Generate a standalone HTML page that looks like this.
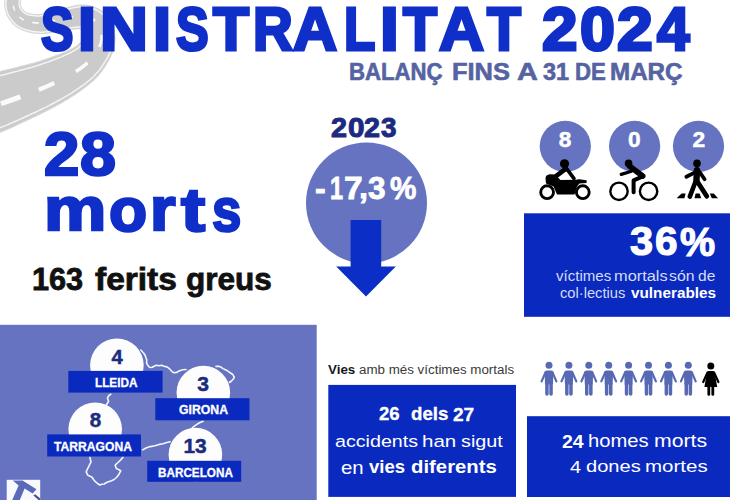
<!DOCTYPE html>
<html><head><meta charset="utf-8"><style>
html,body{margin:0;padding:0;}
body{width:730px;height:500px;position:relative;overflow:hidden;background:#fff;font-family:"Liberation Sans",sans-serif;}
.t{position:absolute;white-space:nowrap;line-height:1;transform-origin:0 0;font-family:"Liberation Sans",sans-serif;}
.a{position:absolute;}
svg{position:absolute;left:0;top:0;}
</style></head><body>
<svg width="730" height="500" viewBox="0 0 730 500">
<path d="M6.5,-8.6 L6.5,-7.9 L6.4,-7.2 L6.3,-6.5 L6.2,-5.8 L6.0,-5.1 L5.9,-4.3 L5.7,-3.4 L5.6,-2.6 L5.4,-1.7 L5.3,-0.8 L5.2,0.2 L5.0,1.1 L4.9,2.1 L4.9,3.2 L4.8,4.3 L4.8,5.4 L4.9,6.5 L5.0,7.7 L5.2,8.9 L5.5,10.1 L5.8,11.1 L6.1,12.1 L6.4,13.1 L6.8,14.0 L7.2,15.0 L7.6,15.9 L8.1,16.8 L8.6,17.8 L9.1,18.7 L9.7,19.6 L10.4,20.4 L11.0,21.3 L11.7,22.1 L12.4,23.0 L13.2,23.7 L14.0,24.5 L14.9,25.3 L15.8,26.0 L16.7,26.7 L17.7,27.3 L18.7,27.9 L19.7,28.5 L20.7,29.0 L21.7,29.5 L22.8,30.0 L23.9,30.4 L25.0,30.8 L26.1,31.2 L27.2,31.5 L28.3,31.8 L29.4,32.1 L30.6,32.3 L31.7,32.6 L32.9,32.8 L34.1,33.0 L35.3,33.1 L36.4,33.2 L37.6,33.4 L38.8,33.4 L40.1,33.5 L41.4,33.5 L42.8,33.5 L44.1,33.4 L45.4,33.3 L46.7,33.2 L48.0,33.0 L49.3,32.8 L50.6,32.6 L51.8,32.4 L53.0,32.2 L54.2,32.0 L55.4,31.7 L56.5,31.5 L57.7,31.3 L58.8,31.1 L59.8,30.9 L60.9,30.7 L61.8,30.6 L62.8,30.5 L63.8,30.3 L64.9,30.2 L66.2,30.1 L67.4,29.9 L68.6,29.8 L69.7,29.6 L70.9,29.4 L72.0,29.3 L73.1,29.1 L74.1,29.0 L75.1,28.9 L76.1,28.8 L77.0,28.7 L77.9,28.6 L78.7,28.6 L79.4,28.6 L80.1,28.6 L80.6,28.7 L81.1,28.7 L81.4,28.8 L81.7,28.9 L82.0,29.0 L82.3,29.2 L82.7,29.3 L83.0,29.5 L83.3,29.7 L83.5,29.8 L83.8,30.0 L84.0,30.2 L84.2,30.4 L84.4,30.5 L84.6,30.7 L84.7,30.9 L84.8,31.1 L85.0,31.3 L85.0,31.4 L85.1,31.6 L85.2,31.8 L85.3,31.9 L85.3,32.1 L85.3,32.2 L85.3,32.3 L85.3,32.5 L85.3,32.7 L85.3,32.9 L85.4,33.1 L85.4,33.4 L85.5,33.7 L85.5,34.0 L85.6,34.4 L85.6,34.7 L85.6,35.1 L85.6,35.4 L85.6,35.7 L85.5,36.0 L85.5,36.3 L85.4,36.5 L85.4,36.8 L85.3,36.9 L85.2,37.0 L85.1,37.1 L85.0,37.1 L84.9,37.3 L84.7,37.4 L84.6,37.6 L84.4,37.9 L84.2,38.2 L83.9,38.5 L83.7,38.9 L83.4,39.3 L83.0,39.7 L82.7,40.1 L82.3,40.6 L81.9,41.0 L81.5,41.5 L81.1,42.0 L80.7,42.5 L80.2,42.9 L79.7,43.4 L79.2,43.9 L78.7,44.4 L78.1,44.9 L77.5,45.4 L77.0,45.8 L76.4,46.2 L75.9,46.6 L75.3,46.9 L74.8,47.3 L74.2,47.6 L73.7,47.9 L73.1,48.2 L72.5,48.6 L71.9,48.9 L71.3,49.2 L70.6,49.6 L69.9,49.9 L69.1,50.3 L68.3,50.7 L67.4,51.1 L66.4,51.6 L65.4,52.0 L64.3,52.5 L63.1,53.0 L61.9,53.5 L60.6,54.0 L59.3,54.5 L57.9,55.0 L56.4,55.5 L55.0,56.1 L53.5,56.6 L51.9,57.2 L50.3,57.8 L48.7,58.3 L47.0,58.9 L45.4,59.5 L43.6,60.0 L41.9,60.6 L40.1,61.2 L38.3,61.8 L36.5,62.3 L34.7,62.9 L32.9,63.4 L30.9,63.9 L28.9,64.4 L26.7,65.0 L24.6,65.6 L22.3,66.1 L20.0,66.7 L17.7,67.3 L15.3,67.9 L13.0,68.5 L10.6,69.1 L8.2,69.6 L5.9,70.2 L3.5,70.7 L1.3,71.3 L-1.0,71.8 L-3.2,72.2 L-5.3,72.7 L-7.3,73.1 L-9.2,73.5 L-11.0,73.9 L-12.6,74.3 L-14.2,74.7 L-15.8,75.0 L-17.3,75.3 L-18.7,75.6 L-20.1,75.9 L-21.5,76.1 L-22.9,76.4 L-24.3,76.6 L-25.7,76.9 L-27.1,77.1 L-28.5,77.4 L-29.9,77.6 L-31.4,77.9 L-32.9,78.1 L-34.4,78.4 L-35.9,78.7 L-37.5,79.0 L-39.1,79.3 L-20.9,140.7 L-19.5,140.1 L-18.2,139.6 L-16.9,139.0 L-15.6,138.5 L-14.3,138.0 L-13.0,137.4 L-11.6,136.9 L-10.3,136.4 L-8.9,135.8 L-7.4,135.2 L-6.0,134.7 L-4.5,134.1 L-2.9,133.5 L-1.4,132.8 L0.3,132.2 L2.0,131.5 L3.7,130.8 L5.5,130.0 L7.4,129.3 L9.2,128.5 L11.1,127.6 L13.1,126.7 L15.1,125.7 L17.2,124.7 L19.3,123.7 L21.6,122.7 L23.8,121.6 L26.1,120.6 L28.4,119.5 L30.8,118.4 L33.1,117.3 L35.5,116.2 L37.8,115.0 L40.2,113.9 L42.5,112.8 L44.7,111.6 L47.0,110.5 L49.1,109.4 L51.3,108.2 L53.3,107.1 L55.3,106.1 L57.2,105.0 L59.1,104.0 L60.9,102.9 L62.8,101.9 L64.6,100.8 L66.4,99.7 L68.2,98.7 L69.9,97.6 L71.6,96.6 L73.3,95.5 L74.9,94.4 L76.5,93.4 L78.0,92.3 L79.6,91.2 L81.0,90.2 L82.5,89.1 L83.9,88.1 L85.3,87.0 L86.6,86.0 L87.9,84.9 L89.2,83.9 L90.4,82.9 L91.6,81.9 L92.8,80.9 L93.9,79.9 L94.9,78.8 L95.9,77.8 L96.9,76.8 L97.9,75.8 L98.8,74.7 L99.6,73.7 L100.5,72.7 L101.3,71.6 L102.0,70.6 L102.7,69.6 L103.4,68.6 L104.1,67.6 L104.7,66.6 L105.3,65.6 L106.0,64.6 L106.6,63.5 L107.3,62.5 L108.0,61.4 L108.6,60.3 L109.2,59.1 L109.8,58.0 L110.4,56.8 L110.9,55.6 L111.5,54.4 L112.0,53.2 L112.4,52.0 L112.9,50.7 L113.3,49.4 L113.7,48.1 L114.0,46.7 L114.3,45.3 L114.6,43.9 L114.7,42.4 L114.9,40.9 L115.0,39.4 L115.0,37.9 L114.9,36.5 L114.8,35.1 L114.6,33.7 L114.4,32.3 L114.1,31.0 L113.8,29.7 L113.5,28.4 L113.1,27.2 L112.6,25.9 L112.1,24.7 L111.6,23.5 L111.0,22.3 L110.4,21.2 L109.8,20.1 L109.1,19.0 L108.3,17.9 L107.5,16.8 L106.7,15.8 L105.8,14.8 L105.0,13.9 L104.0,13.1 L103.1,12.2 L102.1,11.5 L101.1,10.7 L100.0,10.0 L99.0,9.4 L97.9,8.8 L96.7,8.2 L95.6,7.7 L94.4,7.2 L93.2,6.8 L92.0,6.4 L90.8,6.1 L89.5,5.8 L88.3,5.5 L87.0,5.3 L85.7,5.2 L84.3,5.1 L82.9,5.0 L81.4,5.0 L80.0,5.1 L78.6,5.3 L77.2,5.4 L75.9,5.7 L74.7,5.9 L73.4,6.2 L72.2,6.5 L71.0,6.8 L69.8,7.1 L68.6,7.4 L67.5,7.7 L66.4,8.0 L65.3,8.3 L64.2,8.6 L63.2,8.9 L62.2,9.1 L61.2,9.4 L60.2,9.7 L59.1,9.9 L57.8,10.2 L56.6,10.5 L55.4,10.8 L54.2,11.1 L53.0,11.4 L51.9,11.8 L50.8,12.1 L49.7,12.4 L48.6,12.7 L47.6,13.0 L46.6,13.2 L45.6,13.5 L44.6,13.7 L43.7,13.9 L42.9,14.1 L42.1,14.2 L41.3,14.3 L40.6,14.4 L39.9,14.5 L39.2,14.5 L38.4,14.6 L37.6,14.6 L36.7,14.6 L35.9,14.5 L35.1,14.5 L34.4,14.5 L33.6,14.4 L32.8,14.3 L32.1,14.2 L31.4,14.1 L30.7,14.0 L30.0,13.8 L29.4,13.7 L28.8,13.5 L28.2,13.4 L27.7,13.2 L27.2,13.0 L26.7,12.9 L26.3,12.7 L26.0,12.5 L25.6,12.3 L25.3,12.1 L24.9,11.8 L24.6,11.6 L24.2,11.3 L23.9,11.0 L23.5,10.6 L23.2,10.3 L22.9,9.9 L22.6,9.6 L22.3,9.2 L22.0,8.8 L21.8,8.4 L21.5,8.0 L21.3,7.5 L21.0,7.1 L20.8,6.7 L20.7,6.3 L20.5,5.9 L20.4,5.7 L20.4,5.4 L20.3,5.1 L20.3,4.7 L20.3,4.3 L20.3,3.8 L20.3,3.2 L20.3,2.6 L20.4,2.0 L20.5,1.3 L20.5,0.5 L20.6,-0.2 L20.8,-1.0 L20.9,-1.9 L21.0,-2.8 L21.1,-3.7 L21.2,-4.6 L21.3,-5.5 L21.4,-6.5 L21.5,-7.4 Z" fill="#cbcbcb" stroke="#d6d6d6" stroke-width="1.2"/>
<path d="M7.6,-8.5 L7.5,-7.8 L7.4,-7.1 L7.3,-6.4 L7.2,-5.7 L7.1,-4.9 L6.9,-4.1 L6.8,-3.3 L6.6,-2.4 L6.5,-1.5 L6.4,-0.6 L6.2,0.3 L6.1,1.2 L6.0,2.2 L5.9,3.2 L5.9,4.3 L5.9,5.3 L6.0,6.4 L6.1,7.5 L6.3,8.7 L6.5,9.8 L6.8,10.8 L7.1,11.7 L7.4,12.6 L7.8,13.6 L8.2,14.5 L8.6,15.4 L9.1,16.3 L9.6,17.2 L10.1,18.0 L10.7,18.9 L11.3,19.7 L11.9,20.5 L12.6,21.4 L13.3,22.1 L14.0,22.9 L14.8,23.6 L15.6,24.3 L16.5,25.0 L17.3,25.7 L18.3,26.3 L19.2,26.9 L20.2,27.4 L21.2,27.9 L22.2,28.4 L23.2,28.8 L24.2,29.2 L25.3,29.6 L26.4,30.0 L27.5,30.3 L28.6,30.6 L29.7,30.8 L30.8,31.1 L31.9,31.3 L33.1,31.5 L34.2,31.7 L35.4,31.8 L36.5,31.9 L37.7,32.0 L38.8,32.1 L40.0,32.2 L41.3,32.2 L42.7,32.2 L44.0,32.1 L45.3,32.0 L46.5,31.8 L47.8,31.7 L49.0,31.5 L50.3,31.3 L51.5,31.0 L52.7,30.8 L53.9,30.6 L55.1,30.4 L56.2,30.1 L57.3,29.9 L58.4,29.7 L59.5,29.5 L60.6,29.3 L61.6,29.2 L62.5,29.0 L63.5,28.9 L64.7,28.8 L65.9,28.6 L67.1,28.4 L68.3,28.3 L69.4,28.1 L70.6,27.9 L71.7,27.8 L72.8,27.6 L73.8,27.5 L74.9,27.3 L75.8,27.2 L76.8,27.1 L77.7,27.0 L78.5,27.0 L79.3,27.0 L80.0,27.0 L80.6,27.0 L81.1,27.1 L81.5,27.2 L81.9,27.3 L82.2,27.4 L82.7,27.5 L83.1,27.7 L83.4,27.8 L83.8,28.0 L84.1,28.2 L84.4,28.4 L84.7,28.6 L85.0,28.8 L85.3,29.0 L85.5,29.2 L85.7,29.4 L85.9,29.6 L86.1,29.8 L86.2,30.0 L86.4,30.3 L86.5,30.5 L86.6,30.7 L86.7,30.9 L86.8,31.1 L86.8,31.3 L86.9,31.5 L87.0,31.7 L87.1,32.0 L87.1,32.3 L87.2,32.6 L87.3,33.0 L87.4,33.4 L87.4,33.8 L87.5,34.2 L87.5,34.6 L87.6,35.0 L87.6,35.4 L87.6,35.8 L87.5,36.1 L87.5,36.4 L87.4,36.7 L87.4,37.0 L87.3,37.2 L87.2,37.4 L87.1,37.5 L87.0,37.7 L86.8,38.0 L86.6,38.3 L86.4,38.6 L86.2,39.0 L86.0,39.4 L85.7,39.8 L85.4,40.3 L85.0,40.7 L84.7,41.2 L84.3,41.7 L83.9,42.2 L83.5,42.7 L83.0,43.3 L82.6,43.8 L82.1,44.3 L81.6,44.8 L81.1,45.4 L80.6,45.9 L80.0,46.4 L79.4,46.9 L78.8,47.4 L78.3,47.8 L77.7,48.3 L77.1,48.7 L76.6,49.1 L76.0,49.4 L75.4,49.8 L74.9,50.2 L74.2,50.5 L73.6,50.9 L72.9,51.3 L72.2,51.7 L71.5,52.1 L70.7,52.5 L69.8,53.0 L68.9,53.4 L67.9,53.9 L66.9,54.4 L65.7,54.9 L64.6,55.4 L63.3,56.0 L62.0,56.5 L60.7,57.1 L59.3,57.6 L57.8,58.2 L56.4,58.8 L54.8,59.4 L53.3,60.0 L51.7,60.6 L50.1,61.2 L48.4,61.8 L46.7,62.4 L45.0,63.0 L43.2,63.6 L41.5,64.2 L39.7,64.8 L37.8,65.4 L36.0,66.0 L34.1,66.5 L32.2,67.1 L30.1,67.7 L28.0,68.3 L25.8,68.9 L23.6,69.5 L21.3,70.1 L18.9,70.7 L16.6,71.4 L14.2,72.0 L11.8,72.6 L9.5,73.2 L7.1,73.8 L4.8,74.4 L2.5,74.9 L0.3,75.5 L-1.9,76.0 L-4.0,76.5 L-6.0,76.9 L-8.0,77.4 L-9.7,77.8 L-11.4,78.2 L-13.0,78.6 L-14.5,79.0 L-16.0,79.3 L-17.5,79.6 L-18.9,79.9 L-20.3,80.2 L-21.7,80.5 L-23.1,80.7 L-24.5,81.0 L-25.9,81.3 L-27.3,81.5 L-28.7,81.8 L-30.2,82.1 L-31.7,82.4 L-33.2,82.6 L-34.7,83.0 L-36.3,83.3 L-37.9,83.6" fill="none" stroke="#f4f4f4" stroke-width="1.5"/>
<path d="M20.4,-7.5 L20.4,-6.6 L20.3,-5.7 L20.2,-4.7 L20.1,-3.8 L20.0,-2.9 L19.8,-2.1 L19.7,-1.2 L19.6,-0.4 L19.5,0.4 L19.4,1.1 L19.3,1.9 L19.3,2.5 L19.2,3.2 L19.2,3.8 L19.2,4.3 L19.2,4.8 L19.3,5.2 L19.3,5.6 L19.4,5.9 L19.5,6.2 L19.6,6.6 L19.8,7.1 L20.0,7.5 L20.3,8.0 L20.5,8.5 L20.8,8.9 L21.0,9.4 L21.3,9.8 L21.6,10.2 L22.0,10.6 L22.3,11.0 L22.7,11.4 L23.0,11.8 L23.4,12.1 L23.8,12.4 L24.1,12.7 L24.5,13.0 L24.9,13.3 L25.3,13.5 L25.7,13.7 L26.2,13.9 L26.6,14.1 L27.2,14.3 L27.7,14.5 L28.3,14.7 L29.0,14.9 L29.6,15.0 L30.3,15.2 L31.1,15.3 L31.8,15.4 L32.6,15.5 L33.4,15.6 L34.2,15.7 L35.0,15.8 L35.8,15.8 L36.6,15.9 L37.5,15.9 L38.3,15.9 L39.2,15.9 L40.0,15.8 L40.7,15.8 L41.4,15.7 L42.2,15.6 L43.1,15.4 L44.0,15.3 L44.9,15.1 L45.8,14.8 L46.8,14.6 L47.9,14.3 L48.9,14.0 L50.0,13.8 L51.1,13.5 L52.2,13.1 L53.4,12.8 L54.5,12.5 L55.7,12.2 L56.9,11.9 L58.1,11.6 L59.3,11.3 L60.5,11.1 L61.5,10.9 L62.5,10.6 L63.5,10.4 L64.5,10.1 L65.6,9.8 L66.7,9.5 L67.8,9.2 L68.9,8.9 L70.1,8.6 L71.3,8.3 L72.5,8.0 L73.7,7.8 L74.9,7.5 L76.1,7.3 L77.4,7.1 L78.7,6.9 L80.0,6.8 L81.4,6.7 L82.8,6.7 L84.1,6.7 L85.4,6.9 L86.7,7.0 L87.9,7.2 L89.1,7.4 L90.2,7.7 L91.4,8.0 L92.6,8.4 L93.7,8.8 L94.8,9.3 L95.9,9.8 L96.9,10.3 L98.0,10.9 L99.0,11.5 L99.9,12.2 L100.9,12.9 L101.8,13.6 L102.7,14.4 L103.6,15.2 L104.4,16.0 L105.2,16.9 L106.0,17.9 L106.7,18.9 L107.4,19.9 L108.1,21.0 L108.7,22.0 L109.3,23.1 L109.8,24.2 L110.3,25.4 L110.7,26.5 L111.1,27.7 L111.5,28.9 L111.8,30.1 L112.1,31.3 L112.4,32.6 L112.6,33.9 L112.7,35.2 L112.8,36.5 L112.9,37.9 L112.9,39.2 L112.8,40.6 L112.7,42.0 L112.5,43.4 L112.2,44.8 L112.0,46.1 L111.6,47.3 L111.3,48.6 L110.9,49.8 L110.4,51.0 L110.0,52.2 L109.5,53.4 L108.9,54.6 L108.4,55.7 L107.8,56.8 L107.3,57.9 L106.7,59.0 L106.0,60.0 L105.4,61.1 L104.8,62.1 L104.1,63.1 L103.4,64.1 L102.8,65.1 L102.2,66.0 L101.6,67.0 L100.9,68.0 L100.2,68.9 L99.4,69.9 L98.7,70.9 L97.9,71.9 L97.0,72.8 L96.1,73.8 L95.2,74.8 L94.3,75.8 L93.3,76.8 L92.2,77.7 L91.2,78.7 L90.0,79.7 L88.9,80.7 L87.7,81.6 L86.4,82.6 L85.1,83.6 L83.8,84.6 L82.4,85.6 L81.0,86.6 L79.6,87.6 L78.1,88.7 L76.6,89.7 L75.1,90.7 L73.5,91.7 L71.9,92.8 L70.2,93.8 L68.5,94.8 L66.8,95.9 L65.0,96.9 L63.3,97.9 L61.5,98.9 L59.6,100.0 L57.7,101.0 L55.9,102.0 L53.9,103.0 L52.0,104.0 L50.0,105.1 L47.9,106.2 L45.7,107.3 L43.5,108.4 L41.2,109.5 L38.9,110.6 L36.6,111.7 L34.3,112.7 L31.9,113.8 L29.5,114.9 L27.2,116.0 L24.9,117.0 L22.6,118.0 L20.3,119.1 L18.1,120.1 L15.9,121.0 L13.8,122.0 L11.8,122.9 L9.8,123.8 L8.0,124.6 L6.1,125.4 L4.2,126.1 L2.5,126.9 L0.7,127.5 L-0.9,128.2 L-2.6,128.8 L-4.1,129.4 L-5.7,130.0 L-7.2,130.6 L-8.6,131.1 L-10.0,131.7 L-11.4,132.2 L-12.8,132.7 L-14.1,133.3 L-15.5,133.8 L-16.8,134.3 L-18.1,134.8 L-19.4,135.3 L-20.7,135.8 L-22.1,136.4" fill="none" stroke="#f4f4f4" stroke-width="1.5"/>
<path d="M54.2,83.0 L52.4,83.9 L50.6,84.7 L48.7,85.6 L46.8,86.4 L44.9,87.2 L43.0,88.1 L40.9,88.9 L38.8,89.8" fill="none" stroke="#fafafa" stroke-width="4.28"/>
<path d="M20.4,96.8 L18.1,97.7 L15.7,98.5 L13.4,99.3 L11.2,100.1 L9.0,100.9 L6.9,101.7 L4.8,102.4 L2.8,103.1 L0.9,103.7" fill="none" stroke="#fafafa" stroke-width="5.04"/>
<path d="M87.5,62.7 L86.7,63.4 L86.0,64.1 L85.1,64.8 L84.3,65.5 L83.4,66.2 L82.5,67.0 L81.5,67.7 L80.5,68.4 L79.4,69.2 L78.2,69.9 L77.1,70.7 L75.8,71.5" fill="none" stroke="#fafafa" stroke-width="3.49"/>
<path d="M101.5,34.9 L101.6,35.7 L101.6,36.6 L101.6,37.5 L101.6,38.3 L101.5,39.2 L101.4,40.0 L101.2,40.9 L101.0,41.8 L100.8,42.6 L100.5,43.5 L100.2,44.3 L99.9,45.2 L99.5,46.1 L99.1,46.9" fill="none" stroke="#fafafa" stroke-width="2.75"/>
<path d="M86.6,16.4 L87.4,16.7 L88.2,16.9 L89.0,17.2 L89.7,17.5 L90.5,17.9 L91.2,18.3 L91.9,18.7 L92.5,19.1 L93.2,19.5 L93.8,20.0 L94.4,20.5 L95.0,21.0" fill="none" stroke="#fafafa" stroke-width="2.29"/>
<path d="M66.2,18.1 L67.3,17.9 L68.4,17.6 L69.5,17.4 L70.6,17.2 L71.7,16.9 L72.9,16.7" fill="none" stroke="#fafafa" stroke-width="2.00"/>
<path d="M48.4,22.0 L49.5,21.7 L50.6,21.5 L51.7,21.2 L52.8,20.9 L54.0,20.7 L55.1,20.4" fill="none" stroke="#fafafa" stroke-width="1.81"/>
<path d="M32.2,22.5 L33.2,22.6 L34.1,22.7 L35.1,22.8 L36.1,22.9 L37.1,23.0 L38.0,23.0 L39.0,23.0" fill="none" stroke="#fafafa" stroke-width="1.67"/>
<path d="M19.5,17.0 L20.0,17.5 L20.6,18.0 L21.2,18.5 L21.8,18.9 L22.4,19.3 L23.1,19.6 L23.8,20.0" fill="none" stroke="#fafafa" stroke-width="1.52"/>
<path d="M13.4,5.7 L13.5,6.4 L13.6,7.1 L13.8,7.8 L14.0,8.5 L14.2,9.1 L14.5,9.8 L14.7,10.5" fill="none" stroke="#fafafa" stroke-width="1.41"/>
<path d="M14.7,-7.1 L14.6,-6.3 L14.5,-5.5 L14.4,-4.6 L14.3,-3.8 L14.1,-3.0 L14.0,-2.1" fill="none" stroke="#fafafa" stroke-width="1.36"/>
<circle cx="366.5" cy="203" r="60.5" fill="#6573c0"/>
<path d="M350.6,219.9 L381.2,219.9 L381.2,266.6 L395.8,266.6 L366,296.5 L336.2,266.6 L350.6,266.6 Z" fill="#0b2ec6"/>
<circle cx="565.3" cy="146.3" r="25.6" fill="#6573c0"/>
<circle cx="634.6" cy="146.3" r="25.6" fill="#6573c0"/>
<circle cx="698.5" cy="146.3" r="25.6" fill="#6573c0"/>
<g fill="#000"><circle cx="564.5" cy="163.8" r="4.6"/><path d="M545.5,178.5 Q545.5,174.6 550,174.3 L555,174.6 L560.5,180 L576,179.8 L579,179.2 L586.6,180.3 L586.6,182.9 L579.5,183.4 L577,186.5 L574.5,194.6 L557,194.6 L553.5,186.5 L546,183.5 Z"/></g>
<g fill="none" stroke="#000" stroke-linecap="round" stroke-linejoin="round"><path d="M566,168.6 L556,176.2" stroke-width="4.6"/><path d="M567,169.2 L574,178.6" stroke-width="3.6"/><circle cx="547.1" cy="192.2" r="6.4" stroke-width="2.9"/><circle cx="582.8" cy="192.2" r="6.4" stroke-width="2.9"/></g>
<g fill="none" stroke="#000" stroke-linecap="round" stroke-linejoin="round"><path d="M630,166.5 L642.6,176" stroke-width="5.8"/><path d="M631.5,171.2 L621.2,174.4" stroke-width="3.2"/><path d="M642.8,176.4 L633.6,180.4 L633.6,192.2" stroke-width="4"/><circle cx="619" cy="191.3" r="8.7" stroke-width="2.4"/><circle cx="648.6" cy="191.3" r="8.7" stroke-width="2.4"/></g>
<circle cx="628.6" cy="163.4" r="3.8" fill="#000"/>
<g fill="none" stroke="#000" stroke-linecap="round" stroke-linejoin="round"><path d="M697,170.2 L696.4,181.5" stroke-width="6.4"/><path d="M694.5,172.6 L686.4,176.8" stroke-width="3.8"/><path d="M699.8,172.2 L704.6,179.2" stroke-width="3.8"/><path d="M695.2,182.5 L689.8,196.6" stroke-width="4.6"/><path d="M697.6,182 L706.8,196.2" stroke-width="4.8"/></g>
<circle cx="697" cy="163.4" r="3.8" fill="#000"/>
<path d="M676.6,198.2 L681.6,193.5 L685.6,193.5 L684.4,198.2 Z M694.5,198.2 L695.6,193.5 L699.6,193.5 L701.2,198.2 Z M711.8,198.2 L709.8,193.5 L713.8,193.5 L718,198.2 Z" fill="#000"/>
<rect x="524" y="213.3" width="206" height="103.5" fill="#0a2abf"/>
<rect x="0" y="324.8" width="316.7" height="175.2" fill="#6573c0"/>
<g fill="none" stroke="#f4f6fc" stroke-width="1.6" stroke-linejoin="round" stroke-linecap="round"><path d="M140.8,350 L143.6,353 L145.2,355.5 L145.8,357.3 L146.8,360 L146.5,363 L148.7,366.6 L150.5,367.5 L152.3,367.3 L154.5,366 L156.6,365.2 L159,365.8 L161.6,365.2 L164,366.2 L165.9,366.6 L168,367.5 L169.5,368.8 L171.5,371 L173.1,372.4 L175,372.8 L176.7,372.4 L179,371 L181,370.2 L183,369.8 L186,369.5"/><path d="M216,366.4 L218.5,366.2 L221.3,367.3 L223,368.6 L224.9,369.5 L226.5,370.2 L228.5,371.6 L230.5,373 L232.8,374.5 L234.3,377.4 L233,379.5 L231.4,381 L229.5,382.5"/><path d="M110.8,394.2 L108.5,396 L107.5,398.2 L108.6,401.5 L107.5,403 L106.4,405"/><path d="M203.1,421.3 L199.5,422.8 L196.5,424.6 L194,426.3 L192.1,428"/><path d="M142.7,449.9 L146.5,447.8 L150.4,446.6 L155,445.8 L159.2,444.4 L163,443.8 L166.9,442.6 L170.2,441.7"/><path d="M89.9,457.4 L91,462 L88.8,466.4 L87.5,469 L86.2,471.9 L87.7,475.1 L90,476.2 L92.1,477.3 L93.5,479.5 L95.4,481.7 L97.5,483.5 L99.8,485 L102,484.2 L104.2,484 L106.5,482.5 L108.6,481.7 L111.5,480.8 L114.1,479.5 L116.5,477.5 L118.5,475.1 L120.7,470.8 L118.5,469.5 L116.3,468.6 L115.2,465.3 L116.8,463.5 L118.5,462 L120.8,459.8 L122.9,457.4"/></g>
<circle cx="116.9" cy="365.2" r="26.8" fill="#fdfdfd"/>
<circle cx="203.35" cy="392.6" r="26.8" fill="#fdfdfd"/>
<circle cx="95.2" cy="429.3" r="26.8" fill="#fdfdfd"/>
<circle cx="195.4" cy="454.6" r="26.8" fill="#fdfdfd"/>
<rect x="68.3" y="370.9" width="94.3" height="21.7" fill="#0a2abf"/>
<rect x="155.3" y="398.2" width="94.2" height="22.1" fill="#0a2abf"/>
<rect x="47.2" y="434.4" width="93.8" height="22.1" fill="#0a2abf"/>
<rect x="147.2" y="460.8" width="94.0" height="21.0" fill="#0a2abf"/>
<rect x="6.7" y="479.8" width="33.5" height="21" fill="#f8f9fd"/>
<path d="M12.8,480.6 L22.5,480.6 L36.5,489.3 L32.6,493.6 L24.6,488.6 L19.8,500 L12.2,500 L18.6,485.5 Z" fill="#5b6ab8"/>
<path d="M33.4,495.6 L35.2,494.2 L40.2,498.6 L40.2,500 L38.6,500 Z" fill="#4a4f80"/>
<rect x="328.3" y="384.9" width="187.7" height="112" fill="#0a2abf"/>
<rect x="527" y="416.2" width="203" height="80.8" fill="#0a2abf"/>
<g fill="#5869b4" stroke="#5869b4" stroke-linecap="round"><circle cx="549.0" cy="365.2" r="3.5" stroke="none"/><path d="M544.7,372.5 Q544.7,370.4 546.8,370.4 L551.2,370.4 Q553.3,370.4 553.3,372.5 L553.0,384.5 L545.0,384.5 Z" stroke="none"/><path d="M545.6,372.2 L541.6,381.4 M552.4,372.2 L556.4,381.4" stroke-width="2.2" fill="none"/><path d="M546.95,384 L546.95,393.9 M551.05,384 L551.05,393.9" stroke-width="3.5" fill="none"/></g>
<g fill="#5869b4" stroke="#5869b4" stroke-linecap="round"><circle cx="568.9" cy="365.2" r="3.5" stroke="none"/><path d="M564.6,372.5 Q564.6,370.4 566.6999999999999,370.4 L571.1,370.4 Q573.1999999999999,370.4 573.1999999999999,372.5 L572.9,384.5 L564.9,384.5 Z" stroke="none"/><path d="M565.5,372.2 L561.5,381.4 M572.3,372.2 L576.3,381.4" stroke-width="2.2" fill="none"/><path d="M566.85,384 L566.85,393.9 M570.9499999999999,384 L570.9499999999999,393.9" stroke-width="3.5" fill="none"/></g>
<g fill="#5869b4" stroke="#5869b4" stroke-linecap="round"><circle cx="588.8" cy="365.2" r="3.5" stroke="none"/><path d="M584.5,372.5 Q584.5,370.4 586.5999999999999,370.4 L591.0,370.4 Q593.0999999999999,370.4 593.0999999999999,372.5 L592.8,384.5 L584.8,384.5 Z" stroke="none"/><path d="M585.4,372.2 L581.4,381.4 M592.1999999999999,372.2 L596.1999999999999,381.4" stroke-width="2.2" fill="none"/><path d="M586.75,384 L586.75,393.9 M590.8499999999999,384 L590.8499999999999,393.9" stroke-width="3.5" fill="none"/></g>
<g fill="#5869b4" stroke="#5869b4" stroke-linecap="round"><circle cx="608.7" cy="365.2" r="3.5" stroke="none"/><path d="M604.4000000000001,372.5 Q604.4000000000001,370.4 606.5,370.4 L610.9000000000001,370.4 Q613.0,370.4 613.0,372.5 L612.7,384.5 L604.7,384.5 Z" stroke="none"/><path d="M605.3000000000001,372.2 L601.3000000000001,381.4 M612.1,372.2 L616.1,381.4" stroke-width="2.2" fill="none"/><path d="M606.6500000000001,384 L606.6500000000001,393.9 M610.75,384 L610.75,393.9" stroke-width="3.5" fill="none"/></g>
<g fill="#5869b4" stroke="#5869b4" stroke-linecap="round"><circle cx="628.6" cy="365.2" r="3.5" stroke="none"/><path d="M624.3000000000001,372.5 Q624.3000000000001,370.4 626.4,370.4 L630.8000000000001,370.4 Q632.9,370.4 632.9,372.5 L632.6,384.5 L624.6,384.5 Z" stroke="none"/><path d="M625.2,372.2 L621.2,381.4 M632.0,372.2 L636.0,381.4" stroke-width="2.2" fill="none"/><path d="M626.5500000000001,384 L626.5500000000001,393.9 M630.65,384 L630.65,393.9" stroke-width="3.5" fill="none"/></g>
<g fill="#5869b4" stroke="#5869b4" stroke-linecap="round"><circle cx="648.5" cy="365.2" r="3.5" stroke="none"/><path d="M644.2,372.5 Q644.2,370.4 646.3,370.4 L650.7,370.4 Q652.8,370.4 652.8,372.5 L652.5,384.5 L644.5,384.5 Z" stroke="none"/><path d="M645.1,372.2 L641.1,381.4 M651.9,372.2 L655.9,381.4" stroke-width="2.2" fill="none"/><path d="M646.45,384 L646.45,393.9 M650.55,384 L650.55,393.9" stroke-width="3.5" fill="none"/></g>
<g fill="#5869b4" stroke="#5869b4" stroke-linecap="round"><circle cx="668.4" cy="365.2" r="3.5" stroke="none"/><path d="M664.1,372.5 Q664.1,370.4 666.1999999999999,370.4 L670.6,370.4 Q672.6999999999999,370.4 672.6999999999999,372.5 L672.4,384.5 L664.4,384.5 Z" stroke="none"/><path d="M665.0,372.2 L661.0,381.4 M671.8,372.2 L675.8,381.4" stroke-width="2.2" fill="none"/><path d="M666.35,384 L666.35,393.9 M670.4499999999999,384 L670.4499999999999,393.9" stroke-width="3.5" fill="none"/></g>
<g fill="#5869b4" stroke="#5869b4" stroke-linecap="round"><circle cx="688.3" cy="365.2" r="3.5" stroke="none"/><path d="M684.0,372.5 Q684.0,370.4 686.0999999999999,370.4 L690.5,370.4 Q692.5999999999999,370.4 692.5999999999999,372.5 L692.3,384.5 L684.3,384.5 Z" stroke="none"/><path d="M684.9,372.2 L680.9,381.4 M691.6999999999999,372.2 L695.6999999999999,381.4" stroke-width="2.2" fill="none"/><path d="M686.25,384 L686.25,393.9 M690.3499999999999,384 L690.3499999999999,393.9" stroke-width="3.5" fill="none"/></g>
<g fill="#000" stroke="#000" stroke-linecap="round"><circle cx="710.8" cy="366" r="3.5" stroke="none"/><path d="M706.8,373 Q706.8,371 708.8,371 L712.8,371 Q714.8,371 714.8,373 L717.1999999999999,387 L704.4,387 Z" stroke="none"/><path d="M707.4,372.6 L703.1999999999999,382 M714.1999999999999,372.6 L718.4,382" stroke-width="2.2" fill="none"/><path d="M708.8,386 L708.8,394.4 M712.8,386 L712.8,394.4" stroke-width="2.8" fill="none"/></g>
</svg>
<div class=t style="left:40.80px;top:-1.90px;font-size:61.74px;font-weight:700;color:#0f2fc8;-webkit-text-stroke:3.0px currentColor;transform:scaleX(0.7876);">S</div>
<div class=t style="left:77.98px;top:-1.91px;font-size:61.74px;font-weight:700;color:#0f2fc8;-webkit-text-stroke:3.0px currentColor;transform:scaleX(1.0468);">I</div>
<div class=t style="left:99.84px;top:-1.91px;font-size:61.74px;font-weight:700;color:#0f2fc8;-webkit-text-stroke:3.0px currentColor;transform:scaleX(1.0752);">N</div>
<div class=t style="left:152.70px;top:-1.91px;font-size:61.74px;font-weight:700;color:#0f2fc8;-webkit-text-stroke:3.0px currentColor;transform:scaleX(1.0553);">I</div>
<div class=t style="left:175.80px;top:-1.90px;font-size:61.74px;font-weight:700;color:#0f2fc8;-webkit-text-stroke:3.0px currentColor;transform:scaleX(0.7925);">S</div>
<div class=t style="left:213.02px;top:-1.91px;font-size:61.74px;font-weight:700;color:#0f2fc8;-webkit-text-stroke:3.0px currentColor;transform:scaleX(0.9554);">T</div>
<div class=t style="left:252.55px;top:-1.91px;font-size:61.74px;font-weight:700;color:#0f2fc8;-webkit-text-stroke:3.0px currentColor;transform:scaleX(0.8925);">R</div>
<div class=t style="left:293.49px;top:-1.91px;font-size:61.74px;font-weight:700;color:#0f2fc8;-webkit-text-stroke:3.0px currentColor;transform:scaleX(0.9890);">A</div>
<div class=t style="left:344.31px;top:-1.91px;font-size:61.74px;font-weight:700;color:#0f2fc8;-webkit-text-stroke:3.0px currentColor;transform:scaleX(0.8319);">L</div>
<div class=t style="left:379.98px;top:-1.91px;font-size:61.74px;font-weight:700;color:#0f2fc8;-webkit-text-stroke:3.0px currentColor;transform:scaleX(1.0979);">I</div>
<div class=t style="left:402.68px;top:-1.91px;font-size:61.74px;font-weight:700;color:#0f2fc8;-webkit-text-stroke:3.0px currentColor;transform:scaleX(0.9019);">T</div>
<div class=t style="left:438.78px;top:-1.91px;font-size:61.74px;font-weight:700;color:#0f2fc8;-webkit-text-stroke:3.0px currentColor;transform:scaleX(1.0110);">A</div>
<div class=t style="left:487.37px;top:-1.91px;font-size:61.74px;font-weight:700;color:#0f2fc8;-webkit-text-stroke:3.0px currentColor;transform:scaleX(0.8994);">T</div>
<div class=t style="left:541.63px;top:-2.25px;font-size:61.96px;font-weight:700;color:#0f2fc8;-webkit-text-stroke:3.0px currentColor;transform:scaleX(1.0290);">2</div>
<div class=t style="left:579.99px;top:-2.25px;font-size:61.96px;font-weight:700;color:#0f2fc8;-webkit-text-stroke:3.0px currentColor;transform:scaleX(1.0123);">0</div>
<div class=t style="left:617.22px;top:-2.25px;font-size:61.96px;font-weight:700;color:#0f2fc8;-webkit-text-stroke:3.0px currentColor;transform:scaleX(1.0382);">2</div>
<div class=t style="left:656.99px;top:-2.01px;font-size:61.96px;font-weight:700;color:#0f2fc8;-webkit-text-stroke:3.0px currentColor;transform:scaleX(0.9444);">4</div>
<div class=t style="left:348.90px;top:61.13px;font-size:23.08px;font-weight:700;color:#5663a2;-webkit-text-stroke:0.6px currentColor;transform:scaleX(0.9604);">BALANÇ</div>
<div class=t style="left:451.92px;top:61.13px;font-size:23.08px;font-weight:700;color:#5663a2;-webkit-text-stroke:0.6px currentColor;transform:scaleX(1.1015);">FINS</div>
<div class=t style="left:517.39px;top:61.20px;font-size:23.08px;font-weight:700;color:#5663a2;-webkit-text-stroke:0.6px currentColor;transform:scaleX(1.2492);">A</div>
<div class=t style="left:542.75px;top:61.13px;font-size:23.08px;font-weight:700;color:#5663a2;-webkit-text-stroke:0.6px currentColor;transform:scaleX(1.0160);">31</div>
<div class=t style="left:574.80px;top:61.20px;font-size:23.08px;font-weight:700;color:#5663a2;-webkit-text-stroke:0.6px currentColor;transform:scaleX(0.9620);">DE</div>
<div class=t style="left:610.09px;top:61.13px;font-size:23.08px;font-weight:700;color:#5663a2;-webkit-text-stroke:0.6px currentColor;transform:scaleX(1.0480);">MARÇ</div>
<div class=t style="left:43.67px;top:122.57px;font-size:61.8px;font-weight:700;color:#0f2fc8;-webkit-text-stroke:2.4px currentColor;transform:scaleX(1.0281);">2</div>
<div class=t style="left:79.98px;top:122.56px;font-size:61.8px;font-weight:700;color:#0f2fc8;-webkit-text-stroke:2.4px currentColor;transform:scaleX(1.0455);">8</div>
<div class=t style="left:43.95px;top:179.29px;font-size:61.26px;font-weight:700;color:#0f2fc8;-webkit-text-stroke:2.4px currentColor;transform:scaleX(1.1449);">m</div>
<div class=t style="left:109.22px;top:180.05px;font-size:61.26px;font-weight:700;color:#0f2fc8;-webkit-text-stroke:2.4px currentColor;transform:scaleX(1.0200);">o</div>
<div class=t style="left:150.05px;top:179.30px;font-size:61.26px;font-weight:700;color:#0f2fc8;-webkit-text-stroke:2.4px currentColor;transform:scaleX(1.0729);">r</div>
<div class=t style="left:181.39px;top:180.05px;font-size:61.26px;font-weight:700;color:#0f2fc8;-webkit-text-stroke:2.4px currentColor;transform:scaleX(1.1859);">t</div>
<div class=t style="left:211.95px;top:180.05px;font-size:61.26px;font-weight:700;color:#0f2fc8;-webkit-text-stroke:2.4px currentColor;transform:scaleX(0.8625);">s</div>
<div class=t style="left:32.03px;top:263.55px;font-size:31.36px;font-weight:700;color:#111;-webkit-text-stroke:0.8px currentColor;transform:scaleX(0.9780);">163</div>
<div class=t style="left:95.20px;top:263.55px;font-size:31.36px;font-weight:700;color:#111;-webkit-text-stroke:0.8px currentColor;transform:scaleX(1.0675);">ferits</div>
<div class=t style="left:185.80px;top:263.55px;font-size:31.36px;font-weight:700;color:#111;-webkit-text-stroke:0.8px currentColor;transform:scaleX(1.0048);">greus</div>
<div class=t style="left:330.69px;top:112.70px;font-size:28.52px;font-weight:700;color:#1c2b80;-webkit-text-stroke:1.0px currentColor;transform:scaleX(1.0102);">2</div>
<div class=t style="left:347.62px;top:112.70px;font-size:28.52px;font-weight:700;color:#1c2b80;-webkit-text-stroke:1.0px currentColor;transform:scaleX(1.0414);">0</div>
<div class=t style="left:364.09px;top:112.70px;font-size:28.52px;font-weight:700;color:#1c2b80;-webkit-text-stroke:1.0px currentColor;transform:scaleX(1.0102);">2</div>
<div class=t style="left:381.00px;top:112.71px;font-size:28.52px;font-weight:700;color:#1c2b80;-webkit-text-stroke:1.0px currentColor;transform:scaleX(0.9770);">3</div>
<div class=t style="left:314.93px;top:172.50px;font-size:31.14px;font-weight:700;color:#fff;-webkit-text-stroke:0.8px currentColor;transform:scaleX(1.0286);">-</div>
<div class=t style="left:329.77px;top:172.50px;font-size:31.14px;font-weight:700;color:#fff;-webkit-text-stroke:0.8px currentColor;transform:scaleX(0.7541);">1</div>
<div class=t style="left:343.82px;top:172.50px;font-size:31.14px;font-weight:700;color:#fff;-webkit-text-stroke:0.8px currentColor;transform:scaleX(1.0754);">7</div>
<div class=t style="left:359.32px;top:171.96px;font-size:31.14px;font-weight:700;color:#fff;-webkit-text-stroke:0.8px currentColor;transform:scaleX(1.0435);">,</div>
<div class=t style="left:367.95px;top:172.50px;font-size:31.14px;font-weight:700;color:#fff;-webkit-text-stroke:0.8px currentColor;transform:scaleX(1.0154);">3</div>
<div class=t style="left:389.92px;top:172.50px;font-size:31.14px;font-weight:700;color:#fff;-webkit-text-stroke:0.8px currentColor;transform:scaleX(0.9533);">%</div>
<div class=t style="left:558.83px;top:128.21px;font-size:22.68px;font-weight:700;color:#fff;-webkit-text-stroke:0.5px currentColor;">8</div>
<div class=t style="left:628.08px;top:128.17px;font-size:22.68px;font-weight:700;color:#fff;-webkit-text-stroke:0.5px currentColor;">0</div>
<div class=t style="left:692.45px;top:128.44px;font-size:22.86px;font-weight:700;color:#fff;-webkit-text-stroke:0.5px currentColor;">2</div>
<div class=t style="left:630.05px;top:221.20px;font-size:41.3px;font-weight:700;color:#fff;-webkit-text-stroke:1.2px currentColor;transform:scaleX(1.0069);">3</div>
<div class=t style="left:654.62px;top:221.19px;font-size:41.3px;font-weight:700;color:#fff;-webkit-text-stroke:1.2px currentColor;transform:scaleX(0.9810);">6</div>
<div class=t style="left:679.82px;top:222.30px;font-size:41.3px;font-weight:700;color:#fff;-webkit-text-stroke:1.2px currentColor;transform:scaleX(0.9566);">%</div>
<div class=t style="left:555.63px;top:268.70px;font-size:14.0px;font-weight:400;color:#d4dcf8;transform:scaleX(1.0752);">víctimes</div>
<div class=t style="left:613.53px;top:268.70px;font-size:14.0px;font-weight:400;color:#d4dcf8;transform:scaleX(1.1684);">mortals</div>
<div class=t style="left:668.92px;top:268.70px;font-size:14.0px;font-weight:400;color:#d4dcf8;transform:scaleX(1.1294);">són</div>
<div class=t style="left:698.44px;top:268.70px;font-size:14.0px;font-weight:400;color:#d4dcf8;transform:scaleX(1.1103);">de</div>
<div class=t style="left:560.38px;top:285.69px;font-size:14.0px;font-weight:400;color:#d4dcf8;transform:scaleX(1.0498);">col·lectius</div>
<div class=t style="left:630.73px;top:285.54px;font-size:14.0px;font-weight:700;color:#fff;transform:scaleX(1.0922);">vulnerables</div>
<div class=t style="left:111.55px;top:346.63px;font-size:20.24px;font-weight:700;color:#1c2b80;-webkit-text-stroke:0.5px currentColor;">4</div>
<div class=t style="left:197.25px;top:372.54px;font-size:21.07px;font-weight:700;color:#1c2b80;-webkit-text-stroke:0.5px currentColor;">3</div>
<div class=t style="left:89.65px;top:409.60px;font-size:20.62px;font-weight:700;color:#1c2b80;-webkit-text-stroke:0.5px currentColor;">8</div>
<div class=t style="left:183.44px;top:436.20px;font-size:20.91px;font-weight:700;color:#1c2b80;-webkit-text-stroke:0.5px currentColor;">13</div>
<div class=t style="left:94.62px;top:376.60px;font-size:12.97px;font-weight:700;color:#fff;-webkit-text-stroke:0.3px currentColor;transform:scaleX(0.9071);">LLEIDA</div>
<div class=t style="left:179.15px;top:404.13px;font-size:12.04px;font-weight:700;color:#fff;-webkit-text-stroke:0.3px currentColor;transform:scaleX(1.0178);">GIRONA</div>
<div class=t style="left:54.30px;top:441.20px;font-size:12.32px;font-weight:700;color:#fff;-webkit-text-stroke:0.3px currentColor;transform:scaleX(0.9848);">TARRAGONA</div>
<div class=t style="left:157.67px;top:466.70px;font-size:12.04px;font-weight:700;color:#fff;-webkit-text-stroke:0.3px currentColor;transform:scaleX(0.9737);">BARCELONA</div>
<div class=t style="left:328.04px;top:364.38px;font-size:12.82px;font-weight:400;color:#3a3a3a;transform:scaleX(1.0425);"><b style="color:#1a1a1a">Vies</b> amb més víctimes mortals</div>
<div class=t style="left:378.91px;top:405.04px;font-size:18.87px;font-weight:700;color:#fff;-webkit-text-stroke:0.3px currentColor;transform:scaleX(0.9850);">26</div>
<div class=t style="left:411.03px;top:404.60px;font-size:18.87px;font-weight:700;color:#fff;-webkit-text-stroke:0.3px currentColor;transform:scaleX(0.9903);">dels</div>
<div class=t style="left:453.29px;top:405.55px;font-size:18.87px;font-weight:700;color:#fff;-webkit-text-stroke:0.3px currentColor;transform:scaleX(1.0127);">27</div>
<div class=t style="left:334.64px;top:432.85px;font-size:17.1px;font-weight:400;color:#fff;transform:scaleX(1.1505);">accidents</div>
<div class=t style="left:422.20px;top:432.85px;font-size:17.1px;font-weight:400;color:#fff;transform:scaleX(1.2000);">han</div>
<div class=t style="left:460.77px;top:432.85px;font-size:17.1px;font-weight:400;color:#fff;transform:scaleX(1.1577);">sigut</div>
<div class=t style="left:341.44px;top:459.70px;font-size:17.73px;font-weight:400;color:#fff;transform:scaleX(1.1493);">en</div>
<div class=t style="left:369.24px;top:459.10px;font-size:17.73px;font-weight:700;color:#fff;transform:scaleX(1.0478);">vies</div>
<div class=t style="left:410.74px;top:459.10px;font-size:17.73px;font-weight:700;color:#fff;transform:scaleX(1.1468);">diferents</div>
<div class=t style="left:561.82px;top:432.60px;font-size:18.72px;font-weight:700;color:#fff;transform:scaleX(1.0450);">24</div>
<div class=t style="left:588.05px;top:431.68px;font-size:18.72px;font-weight:400;color:#fff;transform:scaleX(1.0802);">homes</div>
<div class=t style="left:653.68px;top:432.07px;font-size:18.72px;font-weight:400;color:#fff;transform:scaleX(1.1352);">morts</div>
<div class=t style="left:570.12px;top:458.95px;font-size:17.05px;font-weight:400;color:#fff;transform:scaleX(1.1647);">4</div>
<div class=t style="left:585.51px;top:458.35px;font-size:17.05px;font-weight:400;color:#fff;transform:scaleX(1.1800);">dones</div>
<div class=t style="left:645.20px;top:458.35px;font-size:17.05px;font-weight:400;color:#fff;transform:scaleX(1.2040);">mortes</div>
</body></html>
